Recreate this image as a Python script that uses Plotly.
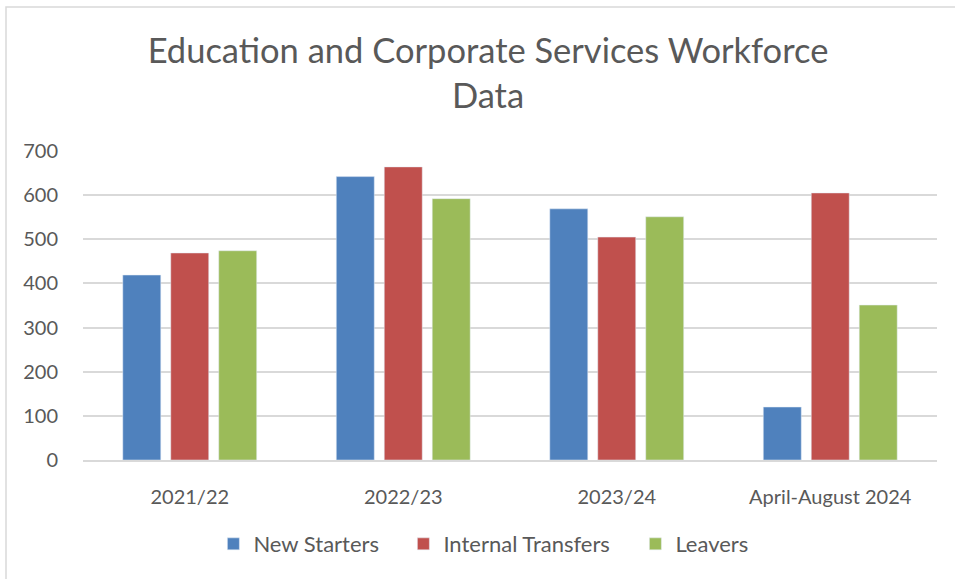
import plotly.graph_objects as go

categories = ["2021/22", "2022/23", "2023/24", "April-August 2024"]
new_starters = [419, 642, 569, 120]
internal_transfers = [469, 664, 505, 605]
leavers = [474, 592, 551, 351]
y_ticks = [0, 100, 200, 300, 400, 500, 600, 700]

FONT = "Lato, 'Open Sans', sans-serif"
TXT = "#595959"

fig = go.Figure()
fig.add_trace(go.Bar(name="New Starters", x=categories, y=new_starters,
                     marker_color="#4F81BD", legendwidth=145))
fig.add_trace(go.Bar(name="Internal Transfers", x=categories, y=internal_transfers,
                     marker_color="#C0504D", legendwidth=187))
fig.add_trace(go.Bar(name="Leavers", x=categories, y=leavers,
                     marker_color="#9BBB59", legendwidth=75))

fig.update_layout(
    width=955, height=579,
    margin=dict(l=83, r=18, t=151, b=119),
    paper_bgcolor="white", plot_bgcolor="white",
    barmode="group", bargap=0.326, bargroupgap=0.208,
    font=dict(family=FONT, color=TXT, size=20),
    title=dict(text="Education and Corporate Services Workforce<br>Data",
               x=0.511, xanchor="center", y=1 - 63/579, yanchor="middle",
               font=dict(family=FONT, size=34.5, color=TXT)),
    legend=dict(orientation="h", x=0.47, xanchor="center", y=-0.272, yanchor="middle",
                font=dict(family=FONT, size=22, color=TXT), itemwidth=30,
                traceorder="normal"),
    shapes=[dict(type="rect", xref="paper", yref="paper",
                 x0=(6-83)/854, x1=1.1, y0=-0.5, y1=(460-7)/309,
                 line=dict(color="#d9d9d9", width=1.5), fillcolor="rgba(0,0,0,0)", layer="below")],
)
fig.update_xaxes(showgrid=False, showline=True, linecolor="#d9d9d9", linewidth=1.5,
                 ticks="outside", ticklen=18, tickcolor="rgba(0,0,0,0)",
                 tickfont=dict(family=FONT, size=20, color=TXT))
fig.update_yaxes(range=[0, 700], tickvals=y_ticks, showgrid=True, gridcolor="#d9d9d9", gridwidth=1.5,
                 zeroline=False, showline=False,
                 ticks="outside", ticklen=20, tickcolor="rgba(0,0,0,0)",
                 tickfont=dict(family=FONT, size=20, color=TXT))

fig.write_html("out.html", config={"displayModeBar": False},
               post_script="document.body.style.margin='0';document.body.style.overflow='hidden';")
